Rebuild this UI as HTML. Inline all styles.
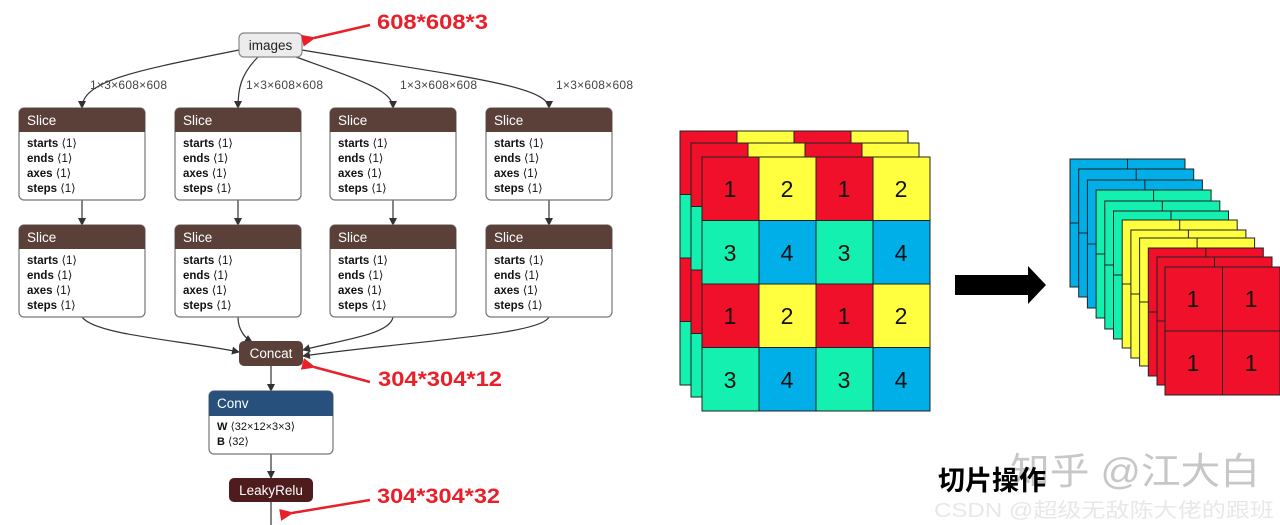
<!DOCTYPE html>
<html><head><meta charset="utf-8"><style>
body{margin:0;background:#fff;width:1280px;height:525px;overflow:hidden}
svg{display:block}
.n{font-family:"Liberation Sans","DejaVu Sans",sans-serif}
</style></head><body>
<svg width="1280" height="525" viewBox="0 0 1280 525" xmlns="http://www.w3.org/2000/svg">
<defs>
<marker id="ah" markerWidth="8" markerHeight="8" refX="7" refY="4" orient="auto" markerUnits="userSpaceOnUse"><path d="M0,0 L8,4 L0,8 z" fill="#333"/></marker>
<marker id="rh" markerWidth="14" markerHeight="12" refX="2" refY="6" orient="auto" markerUnits="userSpaceOnUse"><path d="M14,0 L0,6 L14,12 z" fill="#e8202a"/></marker>
<g id="slice">
<rect x="0" y="0" width="126" height="92" rx="5" fill="#fff" stroke="#777" stroke-width="1.2"/>
<path d="M5,0 H121 A5,5 0 0 1 126,5 V24 H0 V5 A5,5 0 0 1 5,0 z" fill="#5b403a"/>
<text x="8" y="17" font-size="13.5" fill="#fff" class="n">Slice</text>
<g font-size="11.5" fill="#111" class="n"><text x="8" y="39"><tspan font-weight="bold">starts</tspan> ⟨1⟩</text>
<text x="8" y="54"><tspan font-weight="bold">ends</tspan> ⟨1⟩</text>
<text x="8" y="69"><tspan font-weight="bold">axes</tspan> ⟨1⟩</text>
<text x="8" y="84"><tspan font-weight="bold">steps</tspan> ⟨1⟩</text></g>
</g>
<g id="L" stroke="#222" stroke-width="1">
<rect x="0" y="0" width="57" height="63.5" fill="#f0102a"/><rect x="57" y="0" width="57" height="63.5" fill="#ffff40"/><rect x="114" y="0" width="57" height="63.5" fill="#f0102a"/><rect x="171" y="0" width="57" height="63.5" fill="#ffff40"/>
<rect x="0" y="63.5" width="57" height="63.5" fill="#14f0b0"/><rect x="57" y="63.5" width="57" height="63.5" fill="#00aee8"/><rect x="114" y="63.5" width="57" height="63.5" fill="#14f0b0"/><rect x="171" y="63.5" width="57" height="63.5" fill="#00aee8"/>
<rect x="0" y="127" width="57" height="63.5" fill="#f0102a"/><rect x="57" y="127" width="57" height="63.5" fill="#ffff40"/><rect x="114" y="127" width="57" height="63.5" fill="#f0102a"/><rect x="171" y="127" width="57" height="63.5" fill="#ffff40"/>
<rect x="0" y="190.5" width="57" height="63.5" fill="#14f0b0"/><rect x="57" y="190.5" width="57" height="63.5" fill="#00aee8"/><rect x="114" y="190.5" width="57" height="63.5" fill="#14f0b0"/><rect x="171" y="190.5" width="57" height="63.5" fill="#00aee8"/>
</g>
<g id="gridlines" stroke="#222" stroke-width="1" fill="none"><rect x="0" y="0" width="115" height="128"/><line x1="57.5" y1="0" x2="57.5" y2="128"/><line x1="0" y1="64" x2="115" y2="64"/></g>
</defs>

<g fill="none" stroke="#333" stroke-width="1.2" marker-end="url(#ah)">
<path d="M239,50 C140,70 82,80 82,108"/>
<path d="M258,57 C240,75 238,90 238,108"/>
<path d="M296,57 C360,80 393,90 393,108"/>
<path d="M302,50 C450,75 549,85 549,108"/>
<path d="M82,200 V225"/><path d="M238,200 V225"/><path d="M393,200 V225"/><path d="M549,200 V225"/>
<path d="M82,317 C95,335 180,340 239,352"/>
<path d="M238,317 C238,330 245,338 252,342"/>
<path d="M393,317 C390,335 340,340 303,350"/>
<path d="M549,317 C540,335 420,340 303,356"/>
<path d="M271,366 V391"/><path d="M271,454 V478"/>
</g>
<line x1="271" y1="502" x2="271" y2="525" stroke="#333" stroke-width="1.2"/>

<g font-size="12" fill="#444" class="n">
<text x="90" y="89" textLength="77">1×3×608×608</text><text x="246" y="89" textLength="77">1×3×608×608</text><text x="400" y="89" textLength="77">1×3×608×608</text><text x="556" y="89" textLength="77">1×3×608×608</text>
</g>

<rect x="239" y="33" width="63" height="24" rx="5" fill="#ececec" stroke="#888" stroke-width="1.2"/>
<text x="270.5" y="50" font-size="13.5" text-anchor="middle" fill="#222" class="n">images</text>

<use href="#slice" x="19" y="108"/><use href="#slice" x="175" y="108"/><use href="#slice" x="330" y="108"/><use href="#slice" x="486" y="108"/>
<use href="#slice" x="19" y="225"/><use href="#slice" x="175" y="225"/><use href="#slice" x="330" y="225"/><use href="#slice" x="486" y="225"/>

<rect x="239" y="341" width="64" height="25" rx="5" fill="#5b403a"/>
<text x="271" y="358" font-size="13.5" text-anchor="middle" fill="#fff" class="n">Concat</text>

<rect x="209" y="391" width="124" height="63" rx="5" fill="#fff" stroke="#777" stroke-width="1.2"/>
<path d="M214,391 H328 A5,5 0 0 1 333,396 V416 H209 V396 A5,5 0 0 1 214,391 z" fill="#27507c"/>
<text x="217" y="408" font-size="13.5" fill="#fff" class="n">Conv</text>
<g font-size="11" fill="#111" class="n"><text x="217" y="430"><tspan font-weight="bold">W</tspan> ⟨32×12×3×3⟩</text><text x="217" y="445"><tspan font-weight="bold">B</tspan> ⟨32⟩</text></g>

<rect x="229" y="478" width="84" height="24" rx="5" fill="#4e1c1c"/>
<text x="271" y="495" font-size="13.5" text-anchor="middle" fill="#fff" class="n">LeakyRelu</text>

<g stroke="#e8202a" stroke-width="2.5" fill="none" marker-end="url(#rh)">
<line x1="370" y1="25" x2="314" y2="38"/>
<line x1="370" y1="382" x2="314" y2="367"/>
<line x1="370" y1="500" x2="292" y2="513"/>
</g>
<g font-size="21" font-weight="bold" fill="#e8202a" class="n">
<text x="377" y="29" textLength="111" lengthAdjust="spacingAndGlyphs">608*608*3</text><text x="378" y="386" textLength="124" lengthAdjust="spacingAndGlyphs">304*304*12</text><text x="377" y="503" textLength="123" lengthAdjust="spacingAndGlyphs">304*304*32</text>
</g>

<use href="#L" x="680" y="131"/><use href="#L" x="691" y="143"/><use href="#L" x="702" y="157"/>
<g font-size="23" fill="#111" text-anchor="middle" class="n">
<text x="730" y="197">1</text><text x="787" y="197">2</text><text x="844" y="197">1</text><text x="901" y="197">2</text>
<text x="730" y="261">3</text><text x="787" y="261">4</text><text x="844" y="261">3</text><text x="901" y="261">4</text>
<text x="730" y="324">1</text><text x="787" y="324">2</text><text x="844" y="324">1</text><text x="901" y="324">2</text>
<text x="730" y="388">3</text><text x="787" y="388">4</text><text x="844" y="388">3</text><text x="901" y="388">4</text>
</g>

<path d="M955,275 H1028 V266 L1046,285 L1028,304 V295 H955 z" fill="#000"/>

<g>
<rect x="1070" y="159" width="115" height="128" fill="#00aee8"/><use href="#gridlines" x="1070" y="159"/>
<rect x="1078.7" y="169" width="115" height="128" fill="#00aee8"/><use href="#gridlines" x="1078.7" y="169"/>
<rect x="1087.4" y="180" width="115" height="128" fill="#00aee8"/><use href="#gridlines" x="1087.4" y="180"/>
<rect x="1096.1" y="190" width="115" height="128" fill="#14f0b0"/><use href="#gridlines" x="1096.1" y="190"/>
<rect x="1104.8" y="201" width="115" height="128" fill="#14f0b0"/><use href="#gridlines" x="1104.8" y="201"/>
<rect x="1113.5" y="211" width="115" height="128" fill="#14f0b0"/><use href="#gridlines" x="1113.5" y="211"/>
<rect x="1122.2" y="220" width="115" height="128" fill="#ffff40"/><use href="#gridlines" x="1122.2" y="220"/>
<rect x="1130.9" y="230" width="115" height="128" fill="#ffff40"/><use href="#gridlines" x="1130.9" y="230"/>
<rect x="1139.6" y="238" width="115" height="128" fill="#ffff40"/><use href="#gridlines" x="1139.6" y="238"/>
<rect x="1148.3" y="248" width="115" height="128" fill="#f0102a"/><use href="#gridlines" x="1148.3" y="248"/>
<rect x="1157" y="257" width="115" height="128" fill="#f0102a"/><use href="#gridlines" x="1157" y="257"/>
<rect x="1165" y="267" width="115" height="128" fill="#f0102a"/><use href="#gridlines" x="1165" y="267"/>
</g>
<g font-size="23" fill="#111" text-anchor="middle" class="n">
<text x="1193" y="307">1</text><text x="1251" y="307">1</text><text x="1193" y="371">1</text><text x="1251" y="371">1</text>
</g>

<text x="1010" y="484" font-size="37" fill="#bdbdbd" fill-opacity="0.85" textLength="250" lengthAdjust="spacingAndGlyphs" font-family="'Liberation Sans','Noto Sans CJK SC',sans-serif">知乎 @江大白</text>
<text x="938" y="490" font-size="27" font-weight="bold" fill="#000" font-family="'Liberation Sans','Noto Sans CJK SC',sans-serif">切片操作</text>
<text x="934" y="517" font-size="20" fill="#e8e8e8" textLength="340" lengthAdjust="spacingAndGlyphs" font-family="'Liberation Sans','Noto Sans CJK SC',sans-serif">CSDN @超级无敌陈大佬的跟班</text>
</svg>
</body></html>
